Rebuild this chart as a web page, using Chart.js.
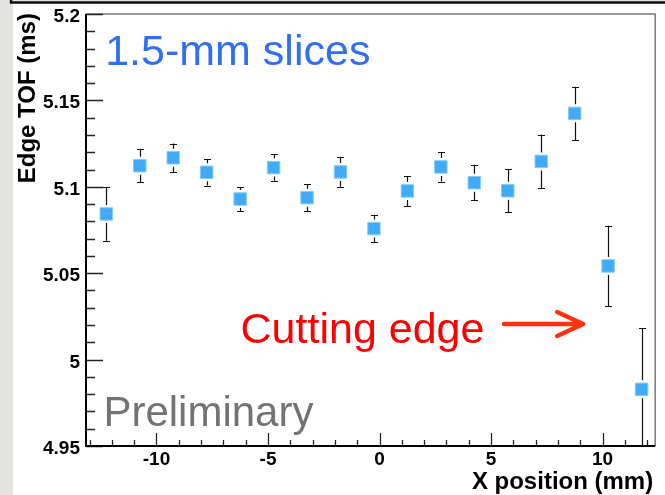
<!DOCTYPE html>
<html>
<head>
<meta charset="utf-8">
<script src="https://cdn.jsdelivr.net/npm/chart.js@4.4.1/dist/chart.umd.min.js"></script>
<style>
  html, body { margin: 0; padding: 0; background: #fff; }
  #wrap { width: 665px; height: 495px; position: relative; }
</style>
</head>
<body>
<div id="wrap"><canvas id="tofChart" width="665" height="495"></canvas></div>
<script>
/* Edge TOF vs X position, 1.5-mm slices */

const xPositions = [-12.25, -10.75, -9.25, -7.75, -6.25, -4.75, -3.25, -1.75, -0.25,
                    1.25, 2.75, 4.25, 5.75, 7.25, 8.75, 10.25, 11.75];
const edgeTof    = [5.0843, 5.1122, 5.1168, 5.1084, 5.0929, 5.1111, 5.0937, 5.1086, 5.0758,
                    5.0976, 5.1115, 5.1024, 5.0977, 5.1147, 5.1425, 5.0542, 4.9828];
const tofError   = [0.0155, 0.0094, 0.0082, 0.0077, 0.0069, 0.0076, 0.0077, 0.0085, 0.0080,
                    0.0087, 0.0085, 0.0103, 0.0125, 0.0155, 0.0154, 0.0233, 0.0355];

const yTicks      = [4.95, 5, 5.05, 5.1, 5.15, 5.2];
const yTickLabels = ['4.95', '5', '5.05', '5.1', '5.15', '5.2'];
const xTicks      = [-10, -5, 0, 5, 10];
const xTickLabels = ['-10', '-5', '0', '5', '10'];

const FONT = '"Liberation Sans", Arial, Helvetica, sans-serif';

// page frame: grey strip on the left, black rule on top
const frameBg = {
  id: 'frameBg',
  beforeDraw(chart) {
    const { ctx, width, height } = chart;
    ctx.save();
    ctx.fillStyle = '#e3e3df';
    ctx.fillRect(0, 0, width, height);
    ctx.fillStyle = '#fff';
    ctx.fillRect(13, 4, width - 13, height - 4);
    ctx.strokeStyle = '#111';
    ctx.lineWidth = 2.5;
    ctx.beginPath();
    ctx.moveTo(11, 0); ctx.lineTo(11, 2.5); ctx.lineTo(width, 2.5);
    ctx.stroke();
    ctx.restore();
  }
};

// ROOT-style axes: inward ticks, bold labels
const rootAxes = {
  id: 'rootAxes',
  afterDatasetsDraw(chart) {
    const { ctx, chartArea: a, scales: { x, y } } = chart;
    ctx.save();

    // top / right frame
    ctx.strokeStyle = '#7a7a7a';
    ctx.lineWidth = 1.5;
    ctx.beginPath();
    ctx.moveTo(a.left, a.top); ctx.lineTo(a.right, a.top); ctx.lineTo(a.right, a.bottom);
    ctx.stroke();

    // y ticks
    ctx.strokeStyle = '#222';
    ctx.lineWidth = 1.3;
    ctx.beginPath();
    for (let i = 0; i <= 25; i++) {
      const v = 4.95 + i * 0.01;
      const py = Math.round(y.getPixelForValue(v)) + 0.5;
      const len = (i % 5 === 0) ? 17 : 9;
      ctx.moveTo(a.left, py); ctx.lineTo(a.left + len, py);
    }
    // x ticks
    for (let v = -13; v <= 12; v++) {
      const px = Math.round(x.getPixelForValue(v)) + 0.5;
      const len = (v % 5 === 0) ? 13 : 6;
      ctx.moveTo(px, a.bottom); ctx.lineTo(px, a.bottom - len);
    }
    ctx.stroke();

    // left / bottom axis lines
    ctx.strokeStyle = '#000';
    ctx.lineWidth = 2;
    ctx.beginPath();
    ctx.moveTo(a.left, a.top); ctx.lineTo(a.left, a.bottom); ctx.lineTo(a.right, a.bottom);
    ctx.stroke();

    // tick labels
    ctx.fillStyle = '#000';
    ctx.font = 'bold 19px ' + FONT;
    ctx.textBaseline = 'alphabetic';
    ctx.textAlign = 'right';
    yTicks.forEach((v, i) => ctx.fillText(yTickLabels[i], a.left - 6, y.getPixelForValue(v) + 8));
    ctx.textAlign = 'center';
    xTicks.forEach((v, i) => ctx.fillText(xTickLabels[i], x.getPixelForValue(v), a.bottom + 19));

    // axis titles
    ctx.font = 'bold 24px ' + FONT;
    ctx.textAlign = 'right';
    ctx.fillText('X position (mm)', a.right - 2, a.bottom + 43);
    ctx.save();
    ctx.translate(35, a.top - 1);
    ctx.rotate(-Math.PI / 2);
    ctx.textAlign = 'right';
    ctx.fillText('Edge TOF (ms)', 0, 0);
    ctx.restore();

    // annotations (data coordinates)
    ctx.textAlign = 'left';
    ctx.font = '43px ' + FONT;
    ctx.fillStyle = '#2f6ff0';
    ctx.fillText('1.5-mm slices', x.getPixelForValue(-12.3), y.getPixelForValue(5.1705));
    ctx.fillStyle = '#ff0000';
    ctx.fillText('Cutting edge', x.getPixelForValue(-6.23), y.getPixelForValue(5.0096));
    ctx.font = '42px ' + FONT;
    ctx.fillStyle = '#737373';
    ctx.fillText('Preliminary', x.getPixelForValue(-12.38), y.getPixelForValue(4.9618));

    // arrow
    const ax0 = x.getPixelForValue(5.58), ax1 = x.getPixelForValue(9.13);
    const ay = y.getPixelForValue(5.0206);
    ctx.strokeStyle = '#ff3311';
    ctx.lineWidth = 4.5;
    ctx.lineCap = 'round';
    ctx.lineJoin = 'round';
    ctx.beginPath();
    ctx.moveTo(ax0, ay); ctx.lineTo(ax1 - 3, ay);
    ctx.moveTo(ax1 - 26, ay - 12); ctx.lineTo(ax1, ay); ctx.lineTo(ax1 - 26, ay + 12);
    ctx.stroke();

    ctx.restore();
  }
};

// vertical error bars with caps, gap around the marker
const errorBars = {
  id: 'errorBars',
  beforeDatasetsDraw(chart) {
    const { ctx, chartArea: a, scales: { x, y } } = chart;
    const gap = 9;
    const cap = 3.5;
    ctx.save();
    ctx.beginPath();
    ctx.rect(a.left, a.top, a.right - a.left, a.bottom - a.top);
    ctx.clip();
    ctx.strokeStyle = '#111';
    ctx.lineWidth = 1.2;
    ctx.beginPath();
    xPositions.forEach((xv, i) => {
      const px = Math.round(x.getPixelForValue(xv)) + 0.5;
      const pc = y.getPixelForValue(edgeTof[i]);
      const pt = y.getPixelForValue(edgeTof[i] + tofError[i]);
      const pb = y.getPixelForValue(edgeTof[i] - tofError[i]);
      if (pc - pt > gap) { ctx.moveTo(px, pc - gap); ctx.lineTo(px, pt); }
      if (pb - pc > gap) { ctx.moveTo(px, pc + gap); ctx.lineTo(px, pb); }
      ctx.moveTo(px - cap, Math.round(pt) + 0.5); ctx.lineTo(px + cap, Math.round(pt) + 0.5);
      ctx.moveTo(px - cap, Math.round(pb) + 0.5); ctx.lineTo(px + cap, Math.round(pb) + 0.5);
    });
    ctx.stroke();
    ctx.restore();
  }
};

new Chart(document.getElementById('tofChart'), {
  type: 'scatter',
  data: {
    datasets: [{
      data: xPositions.map((xv, i) => ({ x: xv, y: edgeTof[i] })),
      pointStyle: 'rect',
      pointRadius: 8.8,
      pointHoverRadius: 8.8,
      backgroundColor: '#41abf7',
      borderColor: '#86c9f9',
      borderWidth: 1,
    }],
  },
  options: {
    responsive: false,
    animation: false,
    events: [],
    layout: { padding: { left: 86, right: 4, top: 14, bottom: 49 } },
    scales: {
      x: { type: 'linear', min: -13.16, max: 12.36, display: false },
      y: { type: 'linear', min: 4.95, max: 5.2, display: false },
    },
    plugins: {
      legend: { display: false },
      tooltip: { enabled: false },
    },
  },
  plugins: [frameBg, errorBars, rootAxes],
});
</script>
</body>
</html>
